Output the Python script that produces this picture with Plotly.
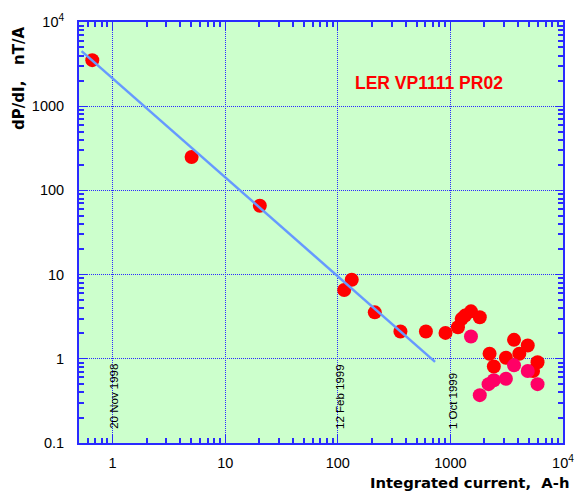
import math
import plotly.graph_objects as go

# ---- data ----
red_x = [0.66, 5.03, 20.3, 114, 133, 213, 360, 606, 905, 1167, 1260, 1350, 1523, 1824,
         2228, 2431, 3112, 3673, 4093, 4864, 5942, 5420]
red_y = [3525, 249, 65.6, 6.56, 8.68, 3.56, 2.11, 2.11, 2.03, 2.37, 2.98, 3.26, 3.66, 3.11,
         1.15, 0.81, 1.03, 1.68, 1.15, 1.44, 0.91, 0.716]

pink_x = [1523, 3673, 4864, 5942, 3112, 2431, 2183, 1824]
pink_y = [1.84, 0.836, 0.716, 0.50, 0.58, 0.556, 0.50, 0.37]

fit_x = [0.53, 731]
fit_y = [4508, 0.92]

x_tickvals = [1, 10, 100, 1000, 10000]
x_ticktext = ["1", "10", "100", "1000", "10<sup>4</sup>"]
y_tickvals = [0.1, 1, 10, 100, 1000, 10000]
y_ticktext = ["0.1", "1", "10", "100", "1000", "10<sup>4</sup>"]

date_labels = ["20 Nov 1998", "12 Feb 1999", "1 Oct 1999"]
date_x = [1, 100, 1000]

title_text = "LER VP1111 PR02"
x_title = "Integrated current,\u00a0 A-h"
y_title = "dP/dI,\u00a0\u00a0 nT/A"

# ---- styling ----
BLUE = "#2A2AFF"
FONT = "Liberation Sans, Arial, sans-serif"
BOLD = "DejaVu Sans, sans-serif"


def minor_vals(lo_exp, hi_exp):
    vals = []
    for e in range(lo_exp, hi_exp):
        for m in range(2, 10):
            vals.append(m * 10 ** e)
    return vals


fig = go.Figure()
fig.add_trace(go.Scatter(x=red_x, y=red_y, mode="markers",
                         marker=dict(color="#FF0000", size=14, line=dict(width=0)),
                         showlegend=False))
fig.add_trace(go.Scatter(x=pink_x, y=pink_y, mode="markers",
                         marker=dict(color="#FF0066", size=14, line=dict(width=0)),
                         showlegend=False))
fig.add_trace(go.Scatter(x=fit_x, y=fit_y, mode="lines",
                         line=dict(color="#6699FF", width=2.5),
                         showlegend=False))

axis_common = dict(
    type="log",
    showline=True, linecolor=BLUE, linewidth=2, mirror="allticks",
    ticks="inside", ticklen=8, tickwidth=1.3, tickcolor=BLUE,
    showgrid=True, gridcolor=BLUE, gridwidth=1, griddash="1px,1px",
    zeroline=False,
    tickfont=dict(family=FONT, size=14.5, color="black"),
    tickmode="array",
)

minor_common = dict(tickmode="array", tickvals=minor_vals(-1, 4), ticks="inside",
                    ticklen=5, tickcolor=BLUE, tickwidth=1.5, showgrid=False)

fig.update_xaxes(**axis_common, range=[math.log10(0.503), 4],
                 tickvals=x_tickvals, ticktext=x_ticktext, ticklabelstandoff=6,
                 minor=minor_common)
fig.update_yaxes(**axis_common, range=[-1, 4],
                 tickvals=y_tickvals, ticktext=y_ticktext, ticklabelstandoff=10,
                 minor=minor_common)

annotations = [
    dict(text=title_text, x=math.log10(640), y=math.log10(1900), xref="x", yref="y",
         showarrow=False, font=dict(family=FONT, size=17.5, color="#FF0000", weight="bold"),
         xanchor="center", yanchor="middle"),
    dict(text=y_title, x=-0.123, y=0.866, xref="paper", yref="paper", textangle=-90,
         showarrow=False, font=dict(family=BOLD, size=15, color="black", weight="bold"),
         xanchor="center", yanchor="middle"),
    dict(text=x_title, x=0.806, y=-0.095, xref="paper", yref="paper",
         showarrow=False, font=dict(family=BOLD, size=14.8, color="black", weight="bold"),
         xanchor="center", yanchor="middle"),
]
for lbl, xv in zip(date_labels, date_x):
    annotations.append(dict(text=lbl, x=math.log10(xv), y=math.log10(0.14), xref="x", yref="y",
                            textangle=-90, showarrow=False, xshift=2,
                            font=dict(family=FONT, size=11.5, color="black"),
                            xanchor="center", yanchor="bottom"))

fig.update_layout(
    width=586, height=493,
    margin=dict(l=79, r=12, t=20.5, b=50, pad=0),
    plot_bgcolor="#CCFFCC", paper_bgcolor="white",
    annotations=annotations,
    showlegend=False,
)

fig.write_html("out.html", config={"displayModeBar": False},
               post_script="document.body.style.margin='0';document.body.style.overflow='hidden';")
